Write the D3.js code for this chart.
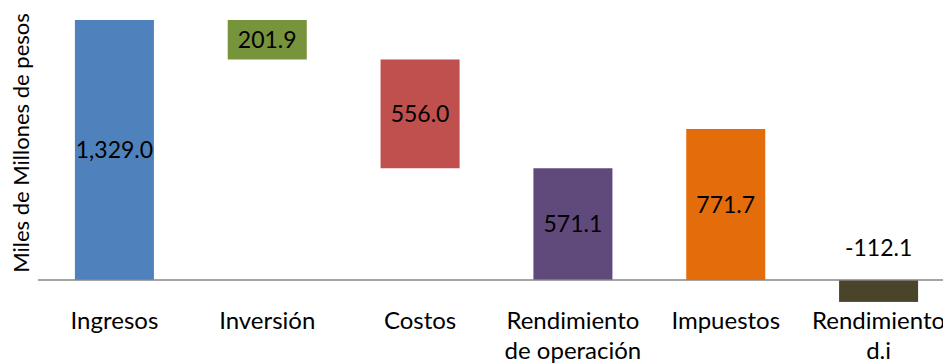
<!DOCTYPE html>
<html>
<head>
<meta charset="utf-8">
<script src="https://cdn.jsdelivr.net/npm/d3@7"></script>
<style>
  html, body { margin: 0; padding: 0; background: #fff; overflow: hidden; }
  svg { display: block; font-family: Lato, "Open Sans", sans-serif; }
</style>
</head>
<body>
<svg id="chart" width="943" height="364"></svg>
<script>
// Waterfall of the fiscal result, in thousands of millions of pesos
const categories = ["Ingresos", "Inversión", "Costos", "Rendimiento de operación", "Impuestos", "Rendimiento d.i"];
const categoryLines = [["Ingresos"], ["Inversión"], ["Costos"], ["Rendimiento", "de operación"], ["Impuestos"], ["Rendimiento", "d.i"]];
const values = [1329.0, 201.9, 556.0, 571.1, 771.7, -112.1];
// "total" bars rise from zero; "decrease" bars hang down from the running level
const kinds = ["total", "decrease", "decrease", "total", "total", "total"];
const colors = ["#4F81BD", "#77933C", "#C0504D", "#604A7B", "#E46C0A", "#4A452A"];
const yDomain = [-200, 1400];

const svg = d3.select("#chart");
const W = 943;

const x = d3.scaleBand()
  .domain(categories)
  .range([38, 955])
  .paddingInner(0.483)
  .paddingOuter(0.2415);

const y = d3.scaleLinear()
  .domain(yDomain)
  .range([319.1, 6.1]);

// Build bar extents from the running level
let level = 0;
const bars = categories.map((c, i) => {
  const v = values[i];
  let lo, hi;
  if (kinds[i] === "decrease") {
    hi = level; lo = level - v; level = lo;
  } else {
    lo = Math.min(0, v); hi = Math.max(0, v); level = v;
  }
  return { c, v, lo, hi, color: colors[i], lines: categoryLines[i] };
});

// Bars
svg.append("g").selectAll("rect")
  .data(bars)
  .join("rect")
  .attr("x", d => x(d.c))
  .attr("width", x.bandwidth())
  .attr("y", d => y(d.hi))
  .attr("height", d => y(d.lo) - y(d.hi))
  .attr("fill", d => d.color);

// Category axis along zero
const xAxis = svg.append("g")
  .attr("transform", `translate(0,${y(0)})`)
  .call(d3.axisBottom(x).tickSize(0).tickFormat(""));
xAxis.select(".domain").attr("stroke", "#868686").attr("stroke-width", 1.5)
  .attr("d", `M38,0H${W + 20}`);

// Category labels (multi-line)
const lab = svg.append("g").selectAll("text")
  .data(bars)
  .join("text")
  .attr("text-anchor", "middle")
  .attr("font-size", 24)
  .attr("fill", "#000");
lab.each(function(d) {
  const t = d3.select(this);
  d.lines.forEach((ln, j) => {
    t.append("tspan")
      .attr("x", x(d.c) + x.bandwidth() / 2)
      .attr("y", 329 + j * 30)
      .text(ln);
  });
});

// Value labels: centred in the bar; negative ones sit above the axis
const fmt = d3.formatLocale({ decimal: ".", thousands: ",", grouping: [3], currency: ["$", ""], minus: "-" }).format(",.1f");
svg.append("g").selectAll("text")
  .data(bars)
  .join("text")
  .attr("text-anchor", "middle")
  .attr("font-size", 23)
  .attr("fill", "#000")
  .attr("x", d => x(d.c) + x.bandwidth() / 2)
  .attr("y", d => d.v < 0 ? y(0) - 32 : (y(d.lo) + y(d.hi)) / 2)
  .attr("dy", "0.35em")
  .text(d => fmt(d.v));

// Y axis title
svg.append("text")
  .attr("transform", "translate(29,143) rotate(-90)")
  .attr("text-anchor", "middle")
  .attr("font-size", 22)
  .attr("fill", "#000")
  .text("Miles de Millones de pesos");
</script>
</body>
</html>
